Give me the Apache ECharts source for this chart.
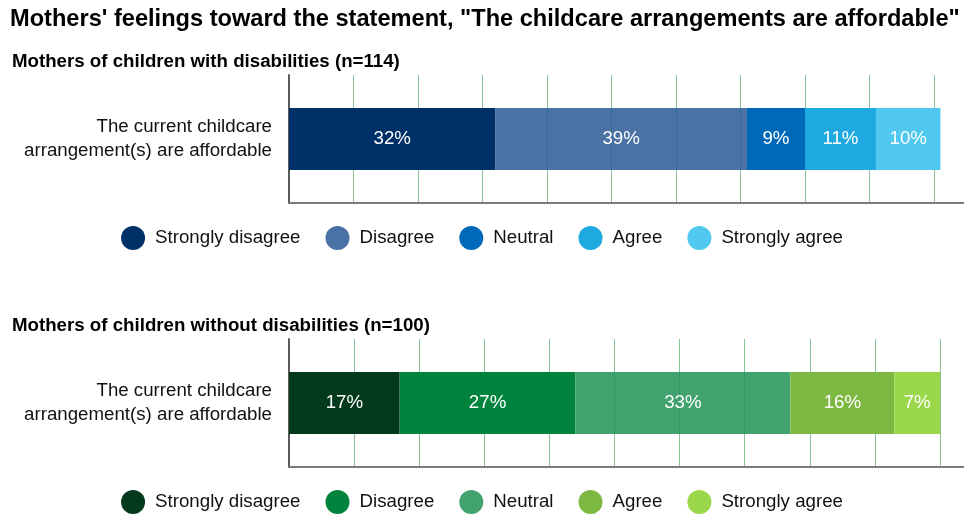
<!DOCTYPE html>
<html>
<head>
<meta charset="utf-8">
<title>Childcare affordability</title>
<script src="https://cdn.jsdelivr.net/npm/echarts@6/dist/echarts.min.js"></script>
<style>
  html, body { margin: 0; padding: 0; background: #ffffff; }
  #top { width: 964px; height: 264px; }
  #bottom { width: 964px; height: 250px; }
</style>
</head>
<body>
<div id="top"></div>
<div id="bottom"></div>
<script>
// Survey statement shown on the category axis
const categories = ['The current childcare\narrangement(s) are affordable'];

// Response levels (legend + series names)
const levels = ['Strongly disagree', 'Disagree', 'Neutral', 'Agree', 'Strongly agree'];

// Percent of mothers giving each response
const withDisabilities = [32, 39, 9, 11, 10];
const withoutDisabilities = [17, 27, 33, 16, 7];

// Value axis range and tick spacing (percent)
const axisMin = 0;
const axisMax = 100;
const axisStep = 10;

const mainTitle = 'Mothers\' feelings toward the statement, "The childcare arrangements are affordable"';
const topSubtitle = 'Mothers of children with disabilities (n=114)';
const bottomSubtitle = 'Mothers of children without disabilities (n=100)';

const FONT = '"Liberation Sans", Arial, sans-serif';

// one segment per panel is slightly see-through so the grid shows faintly
const blues = ['#003068', 'rgba(42,89,148,0.85)', '#0068b8', '#1eaae1', '#50c8f0'];
const greens = ['#033a1e', '#00843d', 'rgba(34,147,86,0.85)', '#7db942', '#9ad84a'];

function buildOption(opts) {
  const gridLeft = 289, gridTop = 75, gridHeight = 128;
  const titles = [];
  if (opts.mainTitle) {
    titles.push({
      text: opts.mainTitle, left: 5, top: 2,
      textStyle: { fontFamily: FONT, fontSize: 23.6, fontWeight: 'bold', color: '#000' }
    });
  }
  titles.push({
    text: opts.subtitle, left: 7, top: 47,
    textStyle: { fontFamily: FONT, fontSize: 18.7, fontWeight: 'bold', color: '#000' }
  });

  const series = levels.map((name, i) => ({
    name: name,
    type: 'bar',
    stack: 'total',
    barWidth: 62,
    clip: false,
    data: [opts.values[i]],
    itemStyle: { color: opts.colors[i] },
    label: {
      show: true, position: 'inside', formatter: '{c}%',
      color: '#ffffff', fontFamily: FONT, fontSize: 18.7
    },
    emphasis: { disabled: true }
  }));

  const axisY = gridTop + gridHeight;
  return {
    animation: false,
    title: titles,
    grid: { left: gridLeft, top: gridTop, width: opts.gridWidth, height: gridHeight },
    xAxis: {
      type: 'value', min: axisMin, max: axisMax, interval: axisStep,
      axisLabel: { show: false }, axisTick: { show: false },
      axisLine: { show: true, lineStyle: { color: '#7a7a7a', width: 2 } },
      splitLine: { show: true, lineStyle: { color: '#88c497', width: 1 } }
    },
    yAxis: {
      type: 'category', data: categories,
      axisTick: { show: false },
      axisLine: { show: true, lineStyle: { color: '#5a5a5a', width: 2 } },
      axisLabel: {
        margin: 17, fontFamily: FONT, fontSize: 18.7, lineHeight: 24.5,
        color: '#111', align: 'right', padding: [8, 0, 0, 0]
      }
    },
    legend: {
      data: levels, left: 'center', top: 221,
      icon: 'circle', itemWidth: 24, itemHeight: 24, itemGap: 25,
      selectedMode: false,
      textStyle: { fontFamily: FONT, fontSize: 18.7, color: '#111', padding: [0, 0, 0, 5] }
    },
    graphic: [{
      type: 'line', silent: true,
      shape: { x1: gridLeft + opts.gridWidth, y1: axisY, x2: 964, y2: axisY },
      style: { stroke: '#7a7a7a', lineWidth: 2 }
    }],
    series: series
  };
}

const topChart = echarts.init(document.getElementById('top'), null, { renderer: 'canvas' });
topChart.setOption(buildOption({
  mainTitle: mainTitle, subtitle: topSubtitle,
  values: withDisabilities, colors: blues, gridWidth: 645
}));

const bottomChart = echarts.init(document.getElementById('bottom'), null, { renderer: 'canvas' });
bottomChart.setOption(buildOption({
  subtitle: bottomSubtitle,
  values: withoutDisabilities, colors: greens, gridWidth: 651
}));
</script>
</body>
</html>
